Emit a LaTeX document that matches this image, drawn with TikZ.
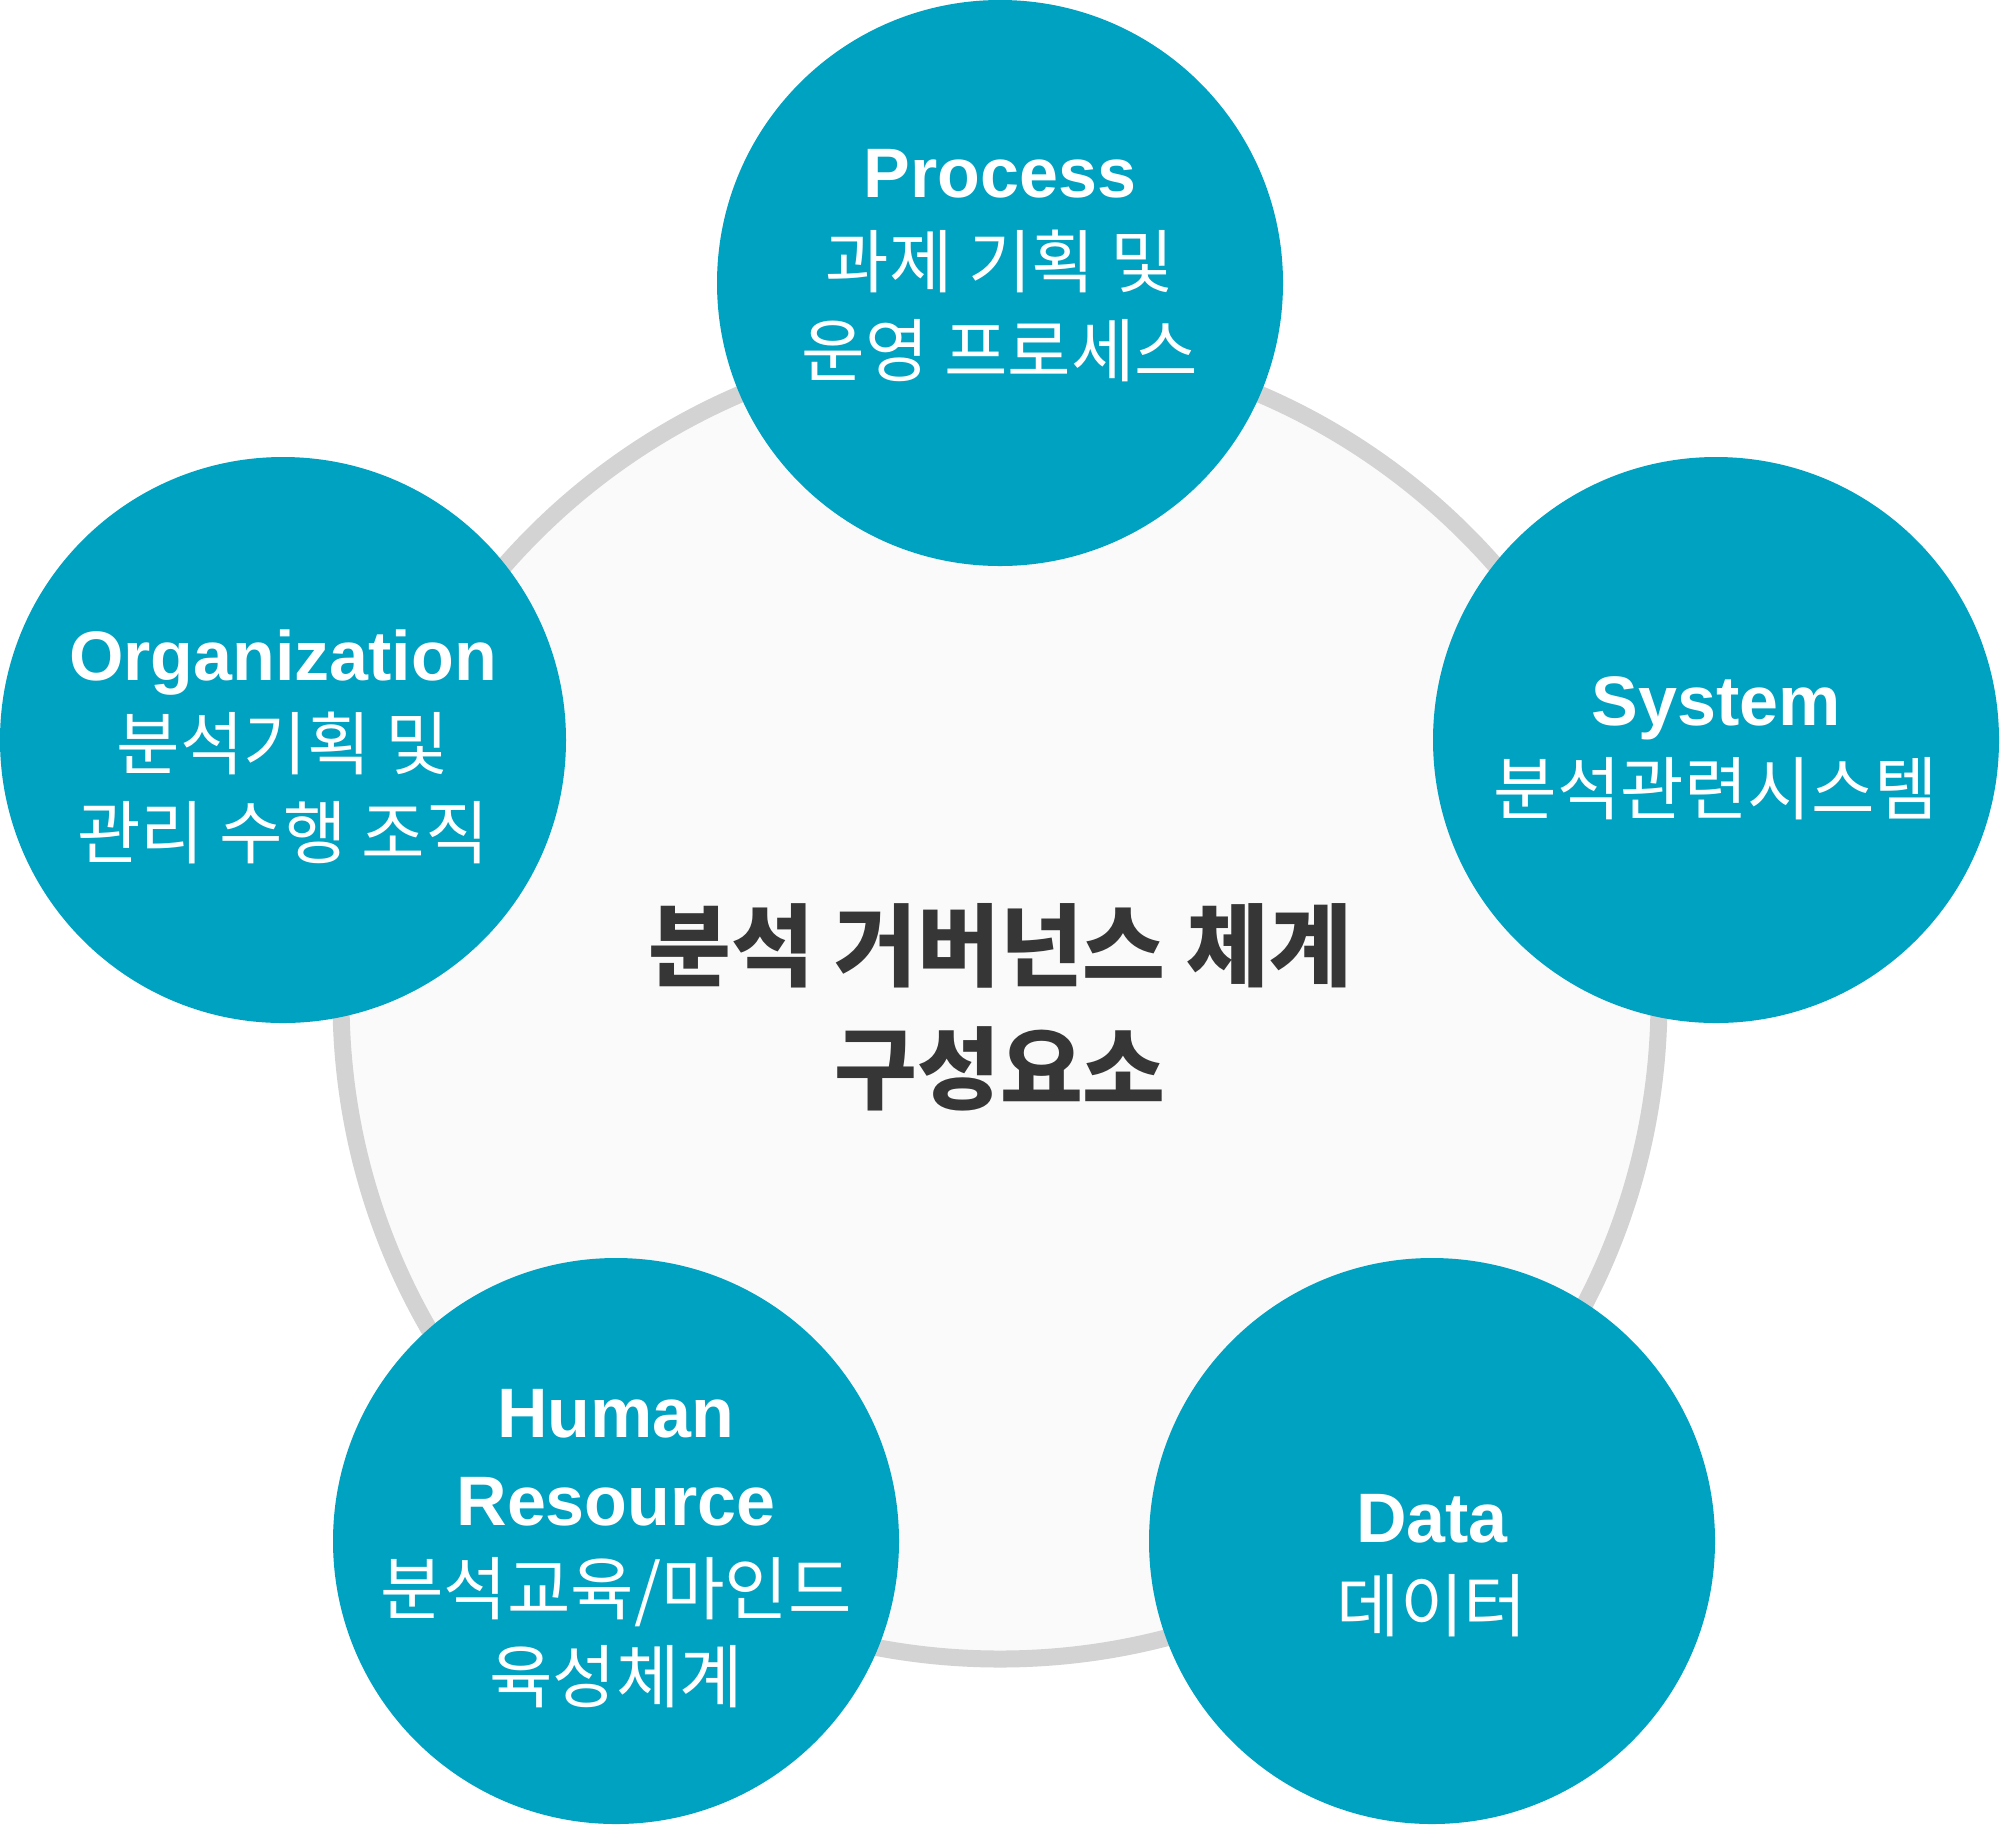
\documentclass[tikz,border=0pt]{standalone}
\usepackage{fontspec}
\setmainfont{Liberation Sans}
\newfontfamily\kr{Noto Sans CJK KR}
\definecolor{tealc}{HTML}{00A2C2}
\definecolor{ringc}{HTML}{D3D3D3}
\definecolor{hubfill}{HTML}{FAFAFA}
\definecolor{darkc}{HTML}{363636}
\begin{document}
\begin{tikzpicture}[x=0.5pt,y=-0.5pt,
  bubble/.style={circle,fill=tealc,minimum size=283pt,inner sep=0pt},
  hubring/.style={circle,draw=ringc,line width=8.5pt,fill=hubfill,minimum size=659pt,inner sep=0pt},
  eng/.style={anchor=base,text=white,inner sep=0pt,font=\fontsize{35pt}{35pt}\selectfont\bfseries},
  kor/.style={anchor=base,text=white,inner sep=0pt,font=\kr\fontsize{34.5pt}{34.5pt}\selectfont},
  hub/.style={anchor=base,text=darkc,inner sep=0pt,font=\kr\bfseries\fontsize{45pt}{45pt}\selectfont}]
\path[use as bounding box] (0,0) rectangle (2000,1827);
% central ring
\node[hubring] (ring) at (1000,1000) {};
% outer bubbles
\node[bubble] (P) at (1000,283) {};
\node[bubble] (O) at (283,740) {};
\node[bubble] (S) at (1716,740) {};
\node[bubble] (H) at (616,1541) {};
\node[bubble] (D) at (1432,1541) {};
% center text
\node[hub] (c1) at (1000,979) {분석 거버넌스 체계};
\node[hub] (c2) at (1000,1102) {구성요소};
% Process
\node[eng] (p0) at (1000,197) {Process};
\node[kor] (p1) at (1000,287) {과제 기획 및};
\node[kor] (p2) at (1000,376) {운영 프로세스};
% Organization
\node[eng] (o0) at (283,680) {Organization};
\node[kor] (o1) at (283,769) {분석기획 및};
\node[kor] (o2) at (283,858) {관리 수행 조직};
% System
\node[eng] (s0) at (1716,725) {System};
\node[kor] (s1) at (1716,814) {분석관련시스템};
% Human Resource
\node[eng] (h0) at (616,1437) {Human};
\node[eng] (h1) at (616,1525) {Resource};
\node[kor] (h2) at (616,1614) {분석교육/마인드};
\node[kor] (h3) at (616,1702) {육성체계};
% Data
\node[eng] (d0) at (1432,1542) {Data};
\node[kor] (d1) at (1432,1631) {데이터};
\end{tikzpicture}
\end{document}
